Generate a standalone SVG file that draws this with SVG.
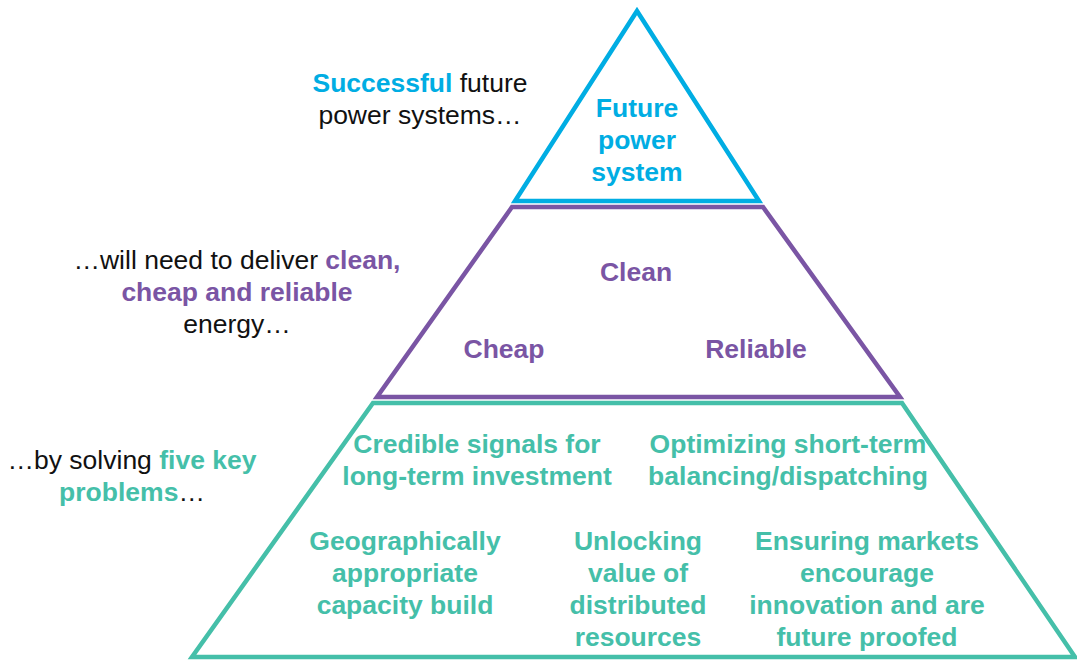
<svg xmlns="http://www.w3.org/2000/svg" width="1077" height="660" viewBox="0 0 1077 660">
  <style>
    text { font-family: "Liberation Sans", Arial, sans-serif; font-size: 26.5px; text-anchor: middle; }
    .b { font-weight: bold; }
    .blue { fill: #00ADE3; }
    .purple { fill: #7A55A4; }
    .teal { fill: #45BFA9; }
    .dark { fill: #111111; }
    .tier { fill: #ffffff; stroke-width: 4.5; stroke-linejoin: miter; }
  </style>
  <rect width="1077" height="660" fill="#ffffff"/>

  <!-- bottom tier: five key problems -->
  <g id="tier-problems">
    <polygon class="tier" stroke="#45BFA9" points="373,403 902,403 1075,657 192,657"/>
    <text class="b teal"><tspan x="477" y="453">Credible signals for</tspan><tspan x="477" y="485">long-term investment</tspan></text>
    <text class="b teal"><tspan x="788" y="453">Optimizing short-term</tspan><tspan x="788" y="485">balancing/dispatching</tspan></text>
    <text class="b teal"><tspan x="405" y="550">Geographically</tspan><tspan x="405" y="582">appropriate</tspan><tspan x="405" y="614">capacity build</tspan></text>
    <text class="b teal"><tspan x="638" y="550">Unlocking</tspan><tspan x="638" y="582">value of</tspan><tspan x="638" y="614">distributed</tspan><tspan x="638" y="646">resources</tspan></text>
    <text class="b teal"><tspan x="867" y="550">Ensuring markets</tspan><tspan x="867" y="582">encourage</tspan><tspan x="867" y="614">innovation and are</tspan><tspan x="867" y="646">future proofed</tspan></text>
  </g>

  <!-- middle tier: clean, cheap, reliable -->
  <g id="tier-energy">
    <polygon class="tier" stroke="#7A55A4" points="512,207 763,207 900,397 377,397"/>
    <text class="b purple" x="636" y="281">Clean</text>
    <text class="b purple" x="504" y="358">Cheap</text>
    <text class="b purple" x="756" y="358">Reliable</text>
  </g>

  <!-- top tier: future power system -->
  <g id="tier-system">
    <polygon class="tier" stroke="#00ADE3" points="637,11 759,201 515,201"/>
    <text class="b blue"><tspan x="637" y="117">Future</tspan><tspan x="637" y="149">power</tspan><tspan x="637" y="181">system</tspan></text>
  </g>

  <!-- side captions -->
  <g id="caption-top">
    <text class="dark"><tspan x="420" y="92"><tspan class="b blue">Successful</tspan> future</tspan><tspan x="420" y="124">power systems…</tspan></text>
  </g>
  <g id="caption-middle">
    <text class="dark"><tspan x="237" y="269">…will need to deliver <tspan class="b purple">clean,</tspan></tspan><tspan x="237" y="301" class="b purple">cheap and reliable</tspan><tspan x="237" y="333">energy…</tspan></text>
  </g>
  <g id="caption-bottom">
    <text class="dark"><tspan x="132" y="469">…by solving <tspan class="b teal">five key</tspan></tspan><tspan x="132" y="501"><tspan class="b teal">problems</tspan>…</tspan></text>
  </g>
</svg>
